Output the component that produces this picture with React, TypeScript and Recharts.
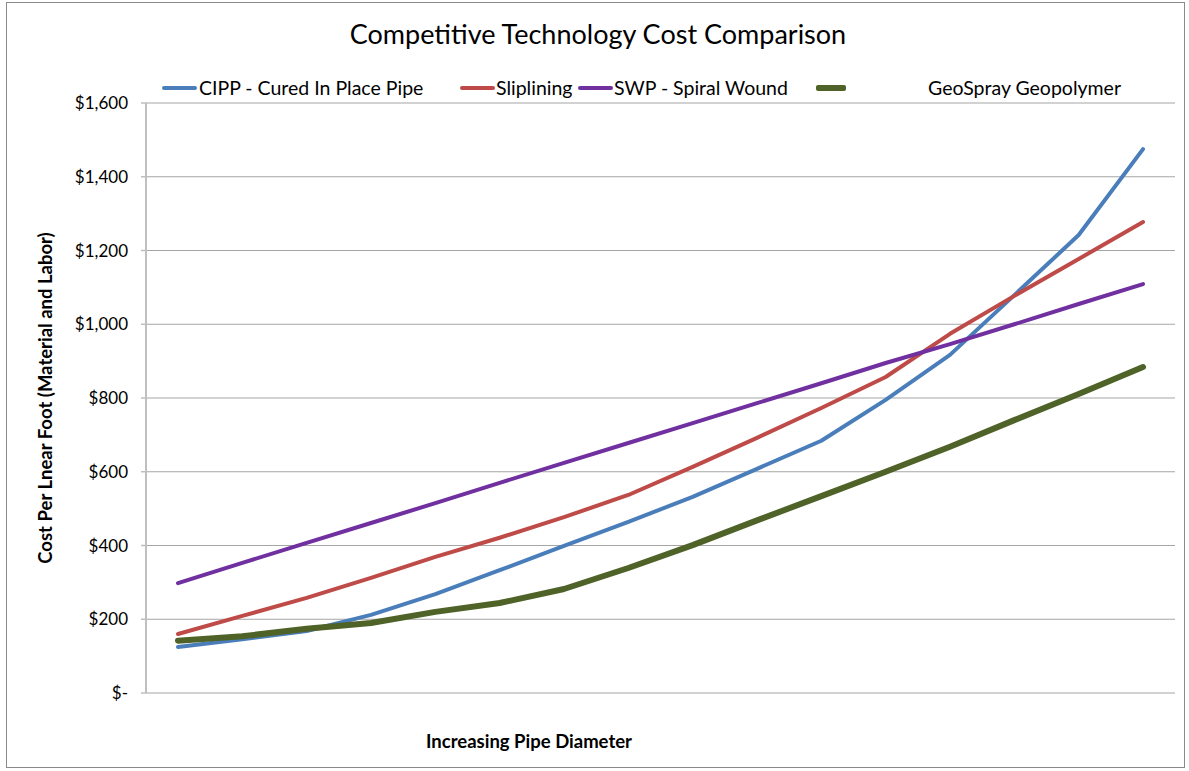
import { LineChart, Line, XAxis, YAxis, CartesianGrid } from "recharts";

// pipe diameter steps (x axis has no printed labels)
const diameterSteps = ["1", "2", "3", "4", "5", "6", "7", "8", "9", "10", "11", "12", "13", "14", "15", "16"];

// cost per linear foot
const cippCost = [125, 146, 168, 212, 268, 333, 399, 464, 532, 608, 684, 795, 917, 1079, 1242, 1475];
const sliplineCost = [160, 209, 258, 312, 369, 421, 477, 537, 613, 692, 773, 857, 974, 1077, 1177, 1277];
const swpCost = [298, 353, 407, 461, 515, 570, 624, 678, 732, 786, 840, 895, 946, 1000, 1055, 1109];
const geoCost = [142, 154, 174, 190, 220, 244, 282, 339, 401, 468, 534, 600, 668, 740, 811, 884];

const yTicks = [0, 200, 400, 600, 800, 1000, 1200, 1400, 1600];

const seriesNames = [
  "CIPP - Cured In Place Pipe",
  "Sliplining",
  "SWP - Spiral Wound",
  "GeoSpray Geopolymer",
];
const seriesKeys = ["cipp", "slip", "swp", "geo"];
const seriesColors = ["#4a7ebb", "#be4b48", "#7030a0", "#4f6228"];
const seriesWidths = [4, 4, 4, 6];

const data = diameterSteps.map((step, i) => ({
  step,
  cipp: cippCost[i],
  slip: sliplineCost[i],
  swp: swpCost[i],
  geo: geoCost[i],
}));

const lato = "Lato, 'Open Sans', sans-serif";

// legend layout: left edge of each swatch, and where the text starts
const legendSwatchX = [162, 460, 578, 816];
const legendTextX = [199, 496, 614, 928];

const money = (v: number) => (v === 0 ? "$-" : "$" + v.toLocaleString("en-US"));

export default function App() {
  return (
    <div
      style={{
        position: "absolute",
        left: 0,
        top: 0,
        width: 1189,
        height: 771,
        background: "#fff",
        fontFamily: lato,
      }}
    >
      {/* chart border */}
      <div
        style={{
          position: "absolute",
          left: 6,
          top: 2,
          width: 1177,
          height: 764,
          border: "1.5px solid #8a8a8a",
        }}
      />
      <div
        style={{
          position: "absolute",
          top: 17,
          left: 0,
          width: 1196,
          textAlign: "center",
          fontSize: 27,
          color: "#000",
        }}
      >
        Competitive Technology Cost Comparison
      </div>

      {/* legend */}
      {seriesNames.map((name, i) => (
        <div key={name}>
          <div
            style={{
              position: "absolute",
              left: legendSwatchX[i],
              top: 88 - seriesWidths[i] / 2,
              width: i === 3 ? 30 : 35,
              height: seriesWidths[i],
              background: seriesColors[i],
              borderRadius: 2,
            }}
          />
          <div
            style={{
              position: "absolute",
              left: legendTextX[i],
              top: 77,
              fontSize: 19.5,
              lineHeight: "22px",
              color: "#000",
              whiteSpace: "nowrap",
            }}
          >
            {name}
          </div>
        </div>
      ))}

      <div
        style={{
          position: "absolute",
          left: 529 - 150,
          width: 300,
          top: 729,
          textAlign: "center",
          fontWeight: "bold",
          fontSize: 18.5,
          lineHeight: "24px",
          color: "#000",
        }}
      >
        Increasing Pipe Diameter
      </div>

      <div style={{ position: "absolute", left: 0, top: 0 }}>
        <LineChart
          width={1189}
          height={771}
          data={data}
          margin={{ top: 103, right: 14, bottom: 78, left: 0 }}
        >
          <CartesianGrid horizontal vertical={false} stroke="#a6a6a6" strokeWidth={1.2} />
          <XAxis
            dataKey="step"
            height={0}
            tick={false}
            tickLine={false}
            axisLine={{ stroke: "#bfbfbf", strokeWidth: 2 }}
            padding={{ left: 32, right: 32 }}
          />
          <YAxis
            width={146}
            domain={[0, 1600]}
            ticks={yTicks}
            interval={0}
            tickFormatter={money}
            tickSize={5}
            tickMargin={13}
            axisLine={{ stroke: "#bfbfbf", strokeWidth: 2 }}
            tickLine={{ stroke: "#bfbfbf", strokeWidth: 1.5 }}
            tick={{ fill: "#000", fontSize: 17, fontFamily: lato }}
            label={(props: any) => {
              const vb = props.viewBox || {};
              const cy = (vb.y ?? 103) + (vb.height ?? 590) / 2;
              return (
                <text
                  x={45}
                  y={cy}
                  transform={`rotate(-90, 45, ${cy})`}
                  textAnchor="middle"
                  dominantBaseline="central"
                  style={{ fontFamily: lato, fontWeight: "bold", fontSize: 18.5, fill: "#000" }}
                >
                  Cost Per Lnear Foot (Material and Labor)
                </text>
              );
            }}
          />
          {seriesKeys.map((key, i) => (
            <Line
              key={key}
              type="linear"
              dataKey={key}
              name={seriesNames[i]}
              stroke={seriesColors[i]}
              strokeWidth={seriesWidths[i]}
              strokeLinecap="round"
              strokeLinejoin="round"
              dot={false}
              activeDot={false}
              isAnimationActive={false}
            />
          ))}
        </LineChart>
      </div>
    </div>
  );
}
